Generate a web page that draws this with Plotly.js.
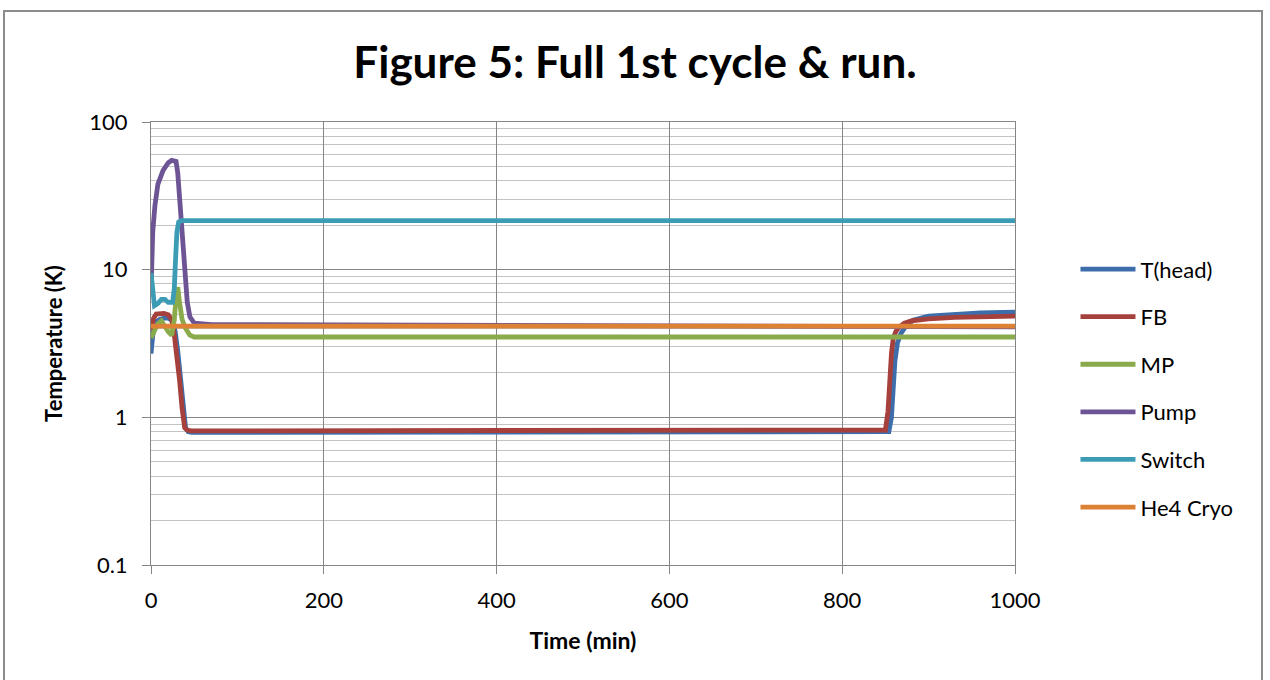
<!DOCTYPE html>
<html>
<head>
<meta charset="utf-8">
<script src="https://cdn.plot.ly/plotly-3.0.1.min.js"></script>
<style>
  html, body { margin: 0; padding: 0; background: #fff; }
  #chart { width: 1270px; height: 680px; }
  #frame { position: absolute; left: 3px; top: 10px; width: 1260px; height: 680px; border: 2px solid #8c8c8c; box-sizing: border-box; pointer-events: none; }
</style>
</head>
<body>
<div id="chart"></div>
<div id="frame"></div>
<script>
// ---- Data ----
const seriesNames = ["T(head)", "FB", "MP", "Pump", "Switch", "He4 Cryo"];

const tHead = [0, 2, 5, 10, 15, 20, 25, 28, 31, 34, 37, 40, 43, 47, 55, 100, 300, 500, 700, 850, 854, 857, 859, 861, 864, 868, 873, 882, 900, 930, 960, 1000];
const vHead = [2.7, 3.6, 4.4, 4.6, 4.7, 4.7, 4.5, 3.8, 2.8, 1.8, 1.15, 0.85, 0.8, 0.79, 0.79, 0.79, 0.79, 0.79, 0.79, 0.79, 0.8, 1.0, 1.6, 2.4, 3.2, 3.7, 4.1, 4.55, 4.85, 5.0, 5.1, 5.15];

const tFB = [0, 3, 6, 10, 15, 20, 24, 27, 30, 33, 36, 39, 42, 46, 55, 100, 300, 500, 700, 850, 853, 855, 857, 859, 862, 866, 872, 880, 900, 930, 1000];
const vFB = [3.9, 4.7, 5.0, 5.05, 5.05, 4.95, 4.6, 3.6, 2.6, 1.8, 1.15, 0.85, 0.82, 0.81, 0.81, 0.81, 0.81, 0.81, 0.81, 0.82, 1.1, 1.9, 2.7, 3.4, 3.8, 4.1, 4.35, 4.5, 4.65, 4.75, 4.85];

const tMP = [0, 4, 8, 12, 16, 20, 24, 27, 29, 31, 33, 36, 40, 45, 50, 100, 300, 500, 700, 900, 1000];
const vMP = [3.45, 3.9, 4.3, 4.5, 4.1, 3.8, 3.6, 4.6, 6.5, 7.6, 6.0, 4.6, 4.0, 3.6, 3.5, 3.5, 3.5, 3.5, 3.5, 3.5, 3.5];

const tPump = [0, 1, 2, 4.5, 8, 14, 20, 24, 29, 31, 33, 36, 39, 42, 45, 50, 70, 300, 600, 1000];
const vPump = [7, 12, 18, 27, 38, 47, 53, 55, 54, 45, 32, 21, 10, 6, 4.8, 4.35, 4.25, 4.2, 4.15, 4.1];

const tSwitch = [0, 2, 4, 8, 12, 16, 20, 25, 27, 28.5, 30, 32, 35, 40, 100, 300, 500, 700, 900, 1000];
const vSwitch = [9.5, 6.5, 5.7, 5.9, 6.3, 6.3, 6.0, 6.0, 7.5, 12, 18, 21, 21.5, 21.5, 21.5, 21.5, 21.5, 21.5, 21.5, 21.5];

const tCryo = [0, 200, 400, 600, 800, 1000];
const vCryo = [4.15, 4.15, 4.15, 4.15, 4.15, 4.15];

const xTickVals = [0, 200, 400, 600, 800, 1000];
const yTickVals = [0.1, 1, 10, 100];
const yTickText = ["0.1", "1", "10", "100"];

// ---- Styles ----
const colors = ["#3d6eab", "#a5403c", "#8aab4b", "#6d5494", "#3c9cb5", "#dd8135"];
const xs = [tHead, tFB, tMP, tPump, tSwitch, tCryo];
const ys = [vHead, vFB, vMP, vPump, vSwitch, vCryo];

const FONT = "Lato, 'Open Sans', sans-serif";

const traces = seriesNames.map((name, i) => ({
  type: "scatter",
  mode: "lines",
  name: name,
  x: xs[i],
  y: ys[i],
  line: { color: colors[i], width: 4.8, shape: "linear" },
  legendgroup: "g" + i
}));

const layout = {
  width: 1270,
  height: 680,
  margin: { l: 151, r: 255, t: 122, b: 115 },
  paper_bgcolor: "#ffffff",
  plot_bgcolor: "#ffffff",
  font: { family: FONT, size: 22, color: "#000" },
  title: {
    text: "<b>Figure 5: Full 1st cycle &amp; run.</b>",
    font: { family: FONT, size: 44, color: "#000" },
    x: 0.5, xref: "container", xanchor: "center",
    y: 0.908, yref: "container", yanchor: "middle"
  },
  xaxis: {
    range: [0, 1000],
    tickvals: xTickVals,
    showgrid: true, gridcolor: "#868686", gridwidth: 1,
    showline: true, linecolor: "#868686", linewidth: 1, mirror: true,
    ticks: "outside", ticklen: 8, tickcolor: "#868686",
    ticklabelstandoff: 8,
    zeroline: false,
    tickfont: { family: FONT, size: 22 },
    title: { text: "<b>Time (min)</b>", font: { family: FONT, size: 23 }, standoff: 20 }
  },
  yaxis: {
    type: "log",
    range: [-1, 2],
    tickvals: yTickVals,
    ticktext: yTickText,
    showgrid: true, gridcolor: "#868686", gridwidth: 1,
    showline: true, linecolor: "#868686", linewidth: 1, mirror: true,
    ticks: "outside", ticklen: 8, tickcolor: "#868686",
    ticklabelstandoff: 10,
    zeroline: false,
    tickfont: { family: FONT, size: 22 },
    minor: { dtick: "D1", showgrid: true, gridcolor: "#c4c4c4", gridwidth: 1, ticks: "" },
    title: { text: "<b>Temperature (K)</b>", font: { family: FONT, size: 22 }, standoff: 20 }
  },
  showlegend: true,
  legend: {
    x: 1.07, xanchor: "left",
    y: 0.715, yanchor: "top",
    font: { family: FONT, size: 22, color: "#000" },
    itemwidth: 55,
    tracegroupgap: 16,
    bgcolor: "rgba(0,0,0,0)"
  }
};

Plotly.newPlot("chart", traces, layout, { displayModeBar: false, staticPlot: true });
</script>
</body>
</html>
